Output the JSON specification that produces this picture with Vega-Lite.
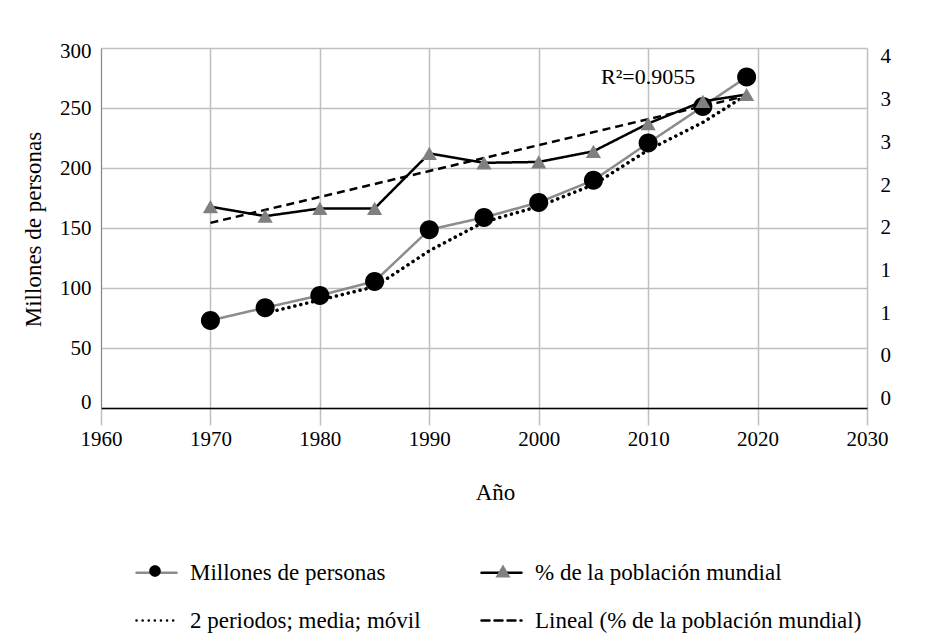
{
  "$schema": "https://vega.github.io/schema/vega-lite/v6.json",
  "width": 766,
  "height": 360,
  "autosize": {"type": "none"},
  "padding": {"left": 101, "top": 48, "right": 80, "bottom": 235},
  "background": "white",
  "config": {
    "font": "Liberation Serif",
    "view": {"stroke": null}
  },
  "data": {
    "values": [
      {"anio": 1970, "valor": 73.0, "serie": "Millones de personas"},
      {"anio": 1975, "valor": 83.6, "serie": "Millones de personas"},
      {"anio": 1980, "valor": 93.8, "serie": "Millones de personas"},
      {"anio": 1985, "valor": 105.5, "serie": "Millones de personas"},
      {"anio": 1990, "valor": 148.6, "serie": "Millones de personas"},
      {"anio": 1995, "valor": 158.8, "serie": "Millones de personas"},
      {"anio": 2000, "valor": 171.3, "serie": "Millones de personas"},
      {"anio": 2005, "valor": 189.8, "serie": "Millones de personas"},
      {"anio": 2010, "valor": 220.8, "serie": "Millones de personas"},
      {"anio": 2015, "valor": 251.3, "serie": "Millones de personas"},
      {"anio": 2019, "valor": 275.8, "serie": "Millones de personas"},
      {"anio": 1970, "valor": 2.246, "serie": "% de la población mundial"},
      {"anio": 1975, "valor": 2.135, "serie": "% de la población mundial"},
      {"anio": 1980, "valor": 2.225, "serie": "% de la población mundial"},
      {"anio": 1985, "valor": 2.225, "serie": "% de la población mundial"},
      {"anio": 1990, "valor": 2.87, "serie": "% de la población mundial"},
      {"anio": 1995, "valor": 2.76, "serie": "% de la población mundial"},
      {"anio": 2000, "valor": 2.77, "serie": "% de la población mundial"},
      {"anio": 2005, "valor": 2.895, "serie": "% de la población mundial"},
      {"anio": 2010, "valor": 3.22, "serie": "% de la población mundial"},
      {"anio": 2015, "valor": 3.48, "serie": "% de la población mundial"},
      {"anio": 2019, "valor": 3.56, "serie": "% de la población mundial"},
      {"anio": 1975, "valor": 79, "serie": "2 periodos; media; móvil"},
      {"anio": 1980, "valor": 90, "serie": "2 periodos; media; móvil"},
      {"anio": 1985, "valor": 101, "serie": "2 periodos; media; móvil"},
      {"anio": 1990, "valor": 131, "serie": "2 periodos; media; móvil"},
      {"anio": 1995, "valor": 155, "serie": "2 periodos; media; móvil"},
      {"anio": 2000, "valor": 168, "serie": "2 periodos; media; móvil"},
      {"anio": 2005, "valor": 186, "serie": "2 periodos; media; móvil"},
      {"anio": 2010, "valor": 215, "serie": "2 periodos; media; móvil"},
      {"anio": 2015, "valor": 238, "serie": "2 periodos; media; móvil"},
      {"anio": 2019, "valor": 261, "serie": "2 periodos; media; móvil"},
      {"anio": 1970, "valor": 2.056, "serie": "Lineal (% de la población mundial)"},
      {"anio": 2019, "valor": 3.545, "serie": "Lineal (% de la población mundial)"}
    ]
  },
  "encoding": {
    "x": {
      "field": "anio",
      "type": "quantitative",
      "scale": {"domain": [1960, 2030], "nice": false, "zero": false},
      "axis": {
        "values": [1960, 1970, 1980, 1990, 2000, 2010, 2020, 2030],
        "format": "d",
        "title": "Año",
        "grid": true,
        "gridColor": "#bfbfbf",
        "gridWidth": 1.5,
        "domainColor": "#000000",
        "domainWidth": 1.5,
        "tickColor": "#bfbfbf",
        "tickWidth": 1.5,
        "tickSize": 17,
        "labelFontSize": 21,
        "labelColor": "#000000",
        "labelPadding": 3,
        "labelFlush": false,
        "titleFontSize": 23,
        "titleFontWeight": "normal",
        "titleColor": "#000000",
        "titleX": 394,
        "titleY": 84,
        "titleBaseline": "middle"
      }
    }
  },
  "layer": [
    {
      "encoding": {
        "y": {
          "field": "valor",
          "type": "quantitative",
          "scale": {"domain": [0, 300], "nice": false},
          "axis": {
            "orient": "left",
            "values": [0, 50, 100, 150, 200, 250, 300],
            "title": "Millones de personas",
            "grid": true,
            "gridColor": "#bfbfbf",
            "gridWidth": 1.5,
            "domainColor": "#8a8a8a",
            "domainWidth": 1,
            "ticks": false,
            "labelPadding": 10,
            "labelFontSize": 21,
            "labelColor": "#000000",
            "labelOffset": {"condition": [{"test": "datum.value == 0", "value": -6}, {"test": "datum.value == 300", "value": 3}], "value": 0},
            "titleFontSize": 23,
            "titleFontWeight": "normal",
            "titleColor": "#000000",
            "titleX": -68,
            "titleY": 181,
            "titleBaseline": "middle"
          }
        }
      },
      "layer": [
        {
          "transform": [{"filter": {"field": "serie", "equal": "Millones de personas"}}],
          "mark": {"type": "line", "strokeWidth": 2.5, "strokeCap": "round"},
          "encoding": {
            "stroke": {"field": "serie", "type": "nominal", "scale": {"domain": ["Millones de personas", "% de la población mundial", "2 periodos; media; móvil", "Lineal (% de la población mundial)"], "range": ["#8c8c8c", "#000000", "#000000", "#000000"]},
              "legend": {"title": null, "orient": "none", "direction": "horizontal", "legendX": 34, "legendY": 503, "columns": 2, "columnPadding": 55, "rowPadding": 14, "symbolSize": 1600, "symbolStrokeWidth": 2.5, "symbolType": "stroke", "labelFontSize": 23, "labelOffset": 12, "labelLimit": 500, "labelColor": "#000000", "labelFont": "Liberation Serif", "encode": {"symbols": {"update": {"strokeCap": {"value": "round"}}}}}},
            "strokeDash": {"field": "serie", "type": "nominal", "scale": {"domain": ["Millones de personas", "% de la población mundial", "2 periodos; media; móvil", "Lineal (% de la población mundial)"], "range": [[1, 0], [1, 0], [0.1, 6], [8, 5]]},
              "legend": {"title": null, "orient": "none", "direction": "horizontal", "legendX": 34, "legendY": 503, "columns": 2, "columnPadding": 55, "rowPadding": 14, "symbolSize": 1600, "symbolStrokeWidth": 2.5, "symbolType": "stroke", "labelFontSize": 23, "labelOffset": 12, "labelLimit": 500, "labelColor": "#000000", "labelFont": "Liberation Serif", "encode": {"symbols": {"update": {"strokeCap": {"value": "round"}}}}}}
          }
        },
        {
          "transform": [{"filter": {"field": "serie", "equal": "2 periodos; media; móvil"}}],
          "mark": {"type": "line", "strokeWidth": 3.5, "strokeCap": "round"},
          "encoding": {
            "stroke": {"field": "serie", "type": "nominal"},
            "strokeDash": {"field": "serie", "type": "nominal"}
          }
        },
        {
          "transform": [{"filter": {"field": "serie", "equal": "Millones de personas"}}],
          "mark": {"type": "point", "filled": true, "size": 4290, "opacity": 1, "strokeWidth": 0},
          "encoding": {
            "fill": {"field": "serie", "type": "nominal", "scale": {"domain": ["Millones de personas", "% de la población mundial"], "range": ["#000000", "#808080"]},
              "legend": {"title": null, "orient": "none", "direction": "horizontal", "legendX": 34, "legendY": 503, "columns": 2, "columnPadding": 296, "rowPadding": 14, "symbolSize": 1600, "symbolStrokeWidth": 0, "labelFontSize": 23, "labelOffset": 12, "labelLimit": 500, "labelExpr": "''", "labelFont": "Liberation Serif"}},
            "shape": {"field": "serie", "type": "nominal", "scale": {"domain": ["Millones de personas", "% de la población mundial"], "range": ["M0.29,0A0.29,0.29,0,1,1,-0.29,0A0.29,0.29,0,1,1,0.29,0Z", "M0,-0.33L0.38,0.33L-0.38,0.33Z"]},
              "legend": {"title": null, "orient": "none", "direction": "horizontal", "legendX": 34, "legendY": 503, "columns": 2, "columnPadding": 296, "rowPadding": 14, "symbolSize": 1600, "symbolStrokeWidth": 0, "labelFontSize": 23, "labelOffset": 12, "labelLimit": 500, "labelExpr": "''", "labelFont": "Liberation Serif"}}
          }
        },
        {
          "data": {"values": [{"anio": 2010, "valor": 276, "texto": "R²=0.9055"}]},
          "mark": {"type": "text", "fontSize": 22, "baseline": "middle", "align": "center", "color": "#000000"},
          "encoding": {"text": {"field": "texto", "type": "nominal"}}
        }
      ]
    },
    {
      "encoding": {
        "y": {
          "field": "valor",
          "type": "quantitative",
          "scale": {"domain": [-0.1125, 4.105], "nice": false, "zero": false},
          "axis": {
            "orient": "right",
            "values": [0, 0.5, 1, 1.5, 2, 2.5, 3, 3.5, 4],
            "labelExpr": "format(floor(datum.value), 'd')",
            "title": null,
            "grid": false,
            "domain": false,
            "ticks": false,
            "labelPadding": 13,
            "labelFontSize": 21,
            "labelColor": "#000000"
          }
        }
      },
      "layer": [
        {
          "transform": [{"filter": {"field": "serie", "equal": "% de la población mundial"}}],
          "mark": {"type": "line", "strokeWidth": 2.5, "strokeCap": "round"},
          "encoding": {
            "stroke": {"field": "serie", "type": "nominal"},
            "strokeDash": {"field": "serie", "type": "nominal"}
          }
        },
        {
          "transform": [{"filter": {"field": "serie", "equal": "Lineal (% de la población mundial)"}}],
          "mark": {"type": "line", "strokeWidth": 2.5},
          "encoding": {
            "stroke": {"field": "serie", "type": "nominal"},
            "strokeDash": {"field": "serie", "type": "nominal"}
          }
        },
        {
          "transform": [{"filter": {"field": "serie", "equal": "% de la población mundial"}}],
          "mark": {"type": "point", "filled": true, "size": 1600, "opacity": 1, "strokeWidth": 0},
          "encoding": {
            "fill": {"field": "serie", "type": "nominal"},
            "shape": {"field": "serie", "type": "nominal"}
          }
        }
      ]
    }
  ],
  "resolve": {"scale": {"y": "independent"}}
}
